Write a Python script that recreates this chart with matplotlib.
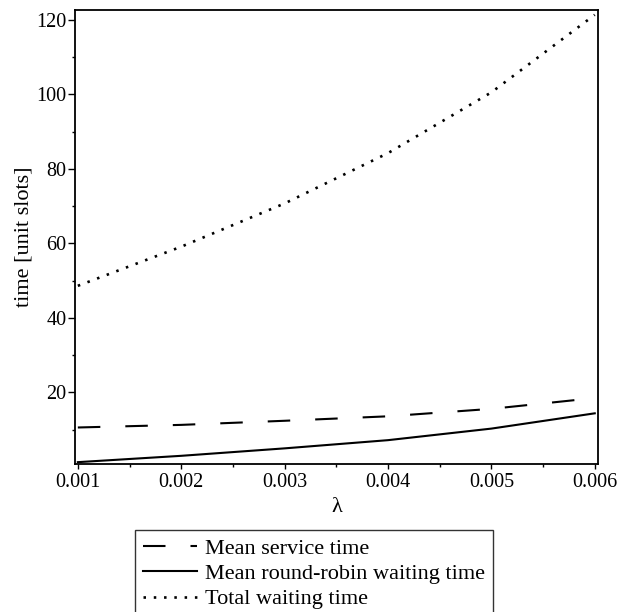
import matplotlib
matplotlib.use("Agg")
import matplotlib.pyplot as plt
from matplotlib.ticker import MultipleLocator

# arrival rate values and the three time curves
lam = [0.001, 0.002, 0.003, 0.004, 0.005, 0.006]
service_time = [10.6, 11.3, 12.4, 13.6, 15.6, 18.5]
rr_waiting = [1.3, 3.0, 5.0, 7.2, 10.3, 14.4]
total_waiting = [48.6, 59.1, 70.7, 84.2, 100.5, 121.3]

labels = ["Mean service time", "Mean round-robin waiting time", "Total waiting time"]

plt.rcParams["font.family"] = ["Liberation Serif", "DejaVu Serif"]
plt.rcParams["lines.scale_dashes"] = False

fig = plt.figure(figsize=(6.28, 6.12), dpi=100)
ax = fig.add_axes([0.119, 0.2418, 0.833, 0.7419])

lw = 1.5
ax.plot(lam, service_time, color="black", lw=lw, linestyle=(0, (16.2, 18.0)),
        solid_capstyle="butt", dash_capstyle="butt", label=labels[0])
ax.plot(lam, rr_waiting, color="black", lw=lw, label=labels[1])
ax.plot(lam, total_waiting, color="black", lw=1.9, linestyle=(0, (1.8, 5.6)),
        dash_capstyle="butt", label=labels[2])

ax.set_xlim(0.00097, 0.00603)
ax.set_ylim(0.8, 122.6)

ax.xaxis.set_major_locator(MultipleLocator(0.001))
ax.xaxis.set_minor_locator(MultipleLocator(0.0005))
ax.yaxis.set_major_locator(MultipleLocator(20))
ax.yaxis.set_minor_locator(MultipleLocator(10))
ax.set_yticks([20, 40, 60, 80, 100, 120])
ax.xaxis.set_major_formatter(plt.FuncFormatter(lambda v, p: f"{v:.3f}"))

ax.tick_params(axis="both", which="major", labelsize=14.5, direction="out", width=1)
ax.tick_params(axis="x", which="major", length=3.5, pad=3)
ax.tick_params(axis="y", which="major", length=5, pad=1)
ax.tick_params(axis="both", which="minor", length=2.2, width=1, direction="out")

for sp in ax.spines.values():
    sp.set_linewidth(1.3)

ax.set_xlabel("λ", fontsize=16, labelpad=4)
ax.set_ylabel("time [unit slots]", fontsize=16, labelpad=2)

leg = fig.legend(loc="upper center", bbox_to_anchor=(0.5, 1 - 530 / 612),
                 fontsize=16, frameon=True, fancybox=False, edgecolor="black",
                 handlelength=2.43, handletextpad=0.36, borderpad=0.36,
                 labelspacing=0.22, borderaxespad=0)
leg.get_frame().set_linewidth(1.0)

fig.savefig("out.png", dpi=100)
